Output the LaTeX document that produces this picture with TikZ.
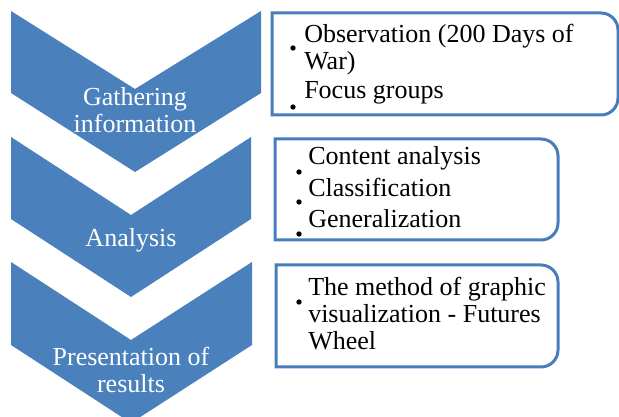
\documentclass[tikz,border=0pt]{standalone}
\usepackage{fontspec}
\setmainfont{Liberation Serif}
\definecolor{chevblue}{RGB}{74,129,189}
\definecolor{boxblue}{RGB}{72,125,187}

\begin{document}
\begin{tikzpicture}[x=0.75pt, y=-0.75pt, font=\fontsize{19.5}{20.25}\selectfont]
    \tikzstyle{every node} = [inner sep=0pt]
    \tikzstyle{chevron} = [fill=chevblue]
    \tikzstyle{listbox} = [draw=boxblue, line width=2.25pt, fill=white]
    \tikzstyle{stage} = [text=white, align=center, anchor=base]
    \tikzstyle{item} = [align=left, anchor=base west]
    \tikzstyle{bullet} = [circle, fill=black, minimum size=4pt]

    \useasboundingbox (0,0) rectangle (619,417);
    \clip (0,0) rectangle (619,417);

    % chevrons
    \fill[chevron] (11,11) -- (135,89) -- (261,11) -- (261,93) -- (135,172) -- (11,93) -- cycle;
    \fill[chevron] (11,137) -- (131,215) -- (251,137) -- (251,219) -- (131,297) -- (11,219) -- cycle;
    \fill[chevron] (11,262) -- (131,340) -- (252,262) -- (252,345) -- (131,423) -- (11,345) -- cycle;

    % labels (base = last line)
    \node[stage] (gath) at (135,133) {Gathering\\information};
    \node[stage] (anal) at (131,247) {Analysis};
    \node[stage] (pres) at (131,393) {Presentation of\\results};

    % boxes
    \draw[listbox] (272,13) -- (601,13) arc[start angle=-90, end angle=0, radius=17]
        -- (618,98) arc[start angle=0, end angle=90, radius=17] -- (272,115) -- cycle;
    \draw[listbox] (275,139) -- (541,139) arc[start angle=-90, end angle=0, radius=17]
        -- (558,223) arc[start angle=0, end angle=90, radius=17] -- (275,240) -- cycle;
    \draw[listbox] (276,265) -- (541,265) arc[start angle=-90, end angle=0, radius=17]
        -- (558,350) arc[start angle=0, end angle=90, radius=17] -- (276,367) -- cycle;

    \node[item] (obs) at (304,70) {Observation (200 Days of\\War)};
    \node[item] (focus) at (304,99) {Focus groups};
    \node[bullet] (b1) at (293,48) {};
    \node[bullet] (b2) at (293,107) {};

    \node[item] (content) at (308,165) {Content analysis};
    \node[item] (classif) at (308,197) {Classification};
    \node[item] (general) at (308,228) {Generalization};
    \node[bullet] (b3) at (299,172) {};
    \node[bullet] (b4) at (299,202) {};
    \node[bullet] (b5) at (299,234) {};

    \node[item] (method) at (308,350) {The method of graphic\\visualization - Futures\\Wheel};
    \node[bullet] (b6) at (299,302) {};
\end{tikzpicture}
\end{document}
